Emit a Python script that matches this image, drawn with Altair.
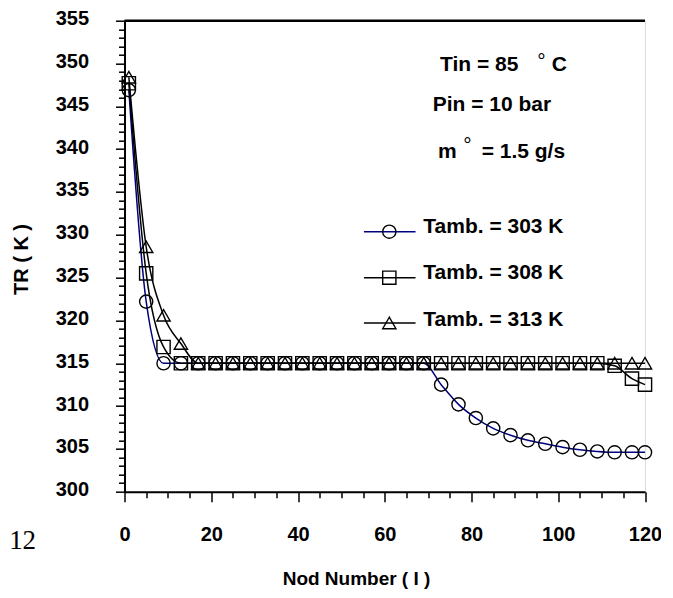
import altair as alt
import pandas as pd

# ---------------- data ----------------
nodes = [1, 5, 9, 13, 17, 21, 25, 29, 33, 37, 41, 45, 49, 53, 57, 61, 65, 69,
         73, 77, 81, 85, 89, 93, 97, 101, 105, 109, 113, 117, 120]

tr_303 = [346.9, 322.2, 315.0, 315.0, 315.0, 315.0, 315.0, 315.0, 315.0, 315.0,
          315.0, 315.0, 315.0, 315.0, 315.0, 315.0, 315.0, 315.0,
          312.5, 310.2, 308.6, 307.4, 306.6, 306.0, 305.6, 305.2, 304.9, 304.7,
          304.6, 304.6, 304.6]

tr_308 = [347.7, 325.5, 316.9, 315.0, 315.0, 315.0, 315.0, 315.0, 315.0, 315.0,
          315.0, 315.0, 315.0, 315.0, 315.0, 315.0, 315.0, 315.0,
          315.0, 315.0, 315.0, 315.0, 315.0, 315.0, 315.0, 315.0, 315.0, 315.0,
          314.7, 313.2, 312.5]

tr_313 = [348.4, 328.6, 320.6, 317.3, 315.0, 315.0, 315.0, 315.0, 315.0, 315.0,
          315.0, 315.0, 315.0, 315.0, 315.0, 315.0, 315.0, 315.0,
          315.0, 315.0, 315.0, 315.0, 315.0, 315.0, 315.0, 315.0, 315.0, 315.0,
          315.0, 315.0, 315.0]

series_names = ["Tamb. = 303 K", "Tamb. = 308 K", "Tamb. = 313 K"]
series_values = [tr_303, tr_308, tr_313]
series_shapes = ["circle", "square", "triangle-up"]
series_colors = ["#000080", "black", "black"]

x_ticks = [0, 5, 10, 15, 20, 25, 30, 35, 40, 45, 50, 55, 60, 65, 70, 75, 80,
           85, 90, 95, 100, 105, 110, 115, 120]
y_ticks = [300, 301, 302, 303, 304, 305, 306, 307, 308, 309, 310, 311, 312, 313,
           314, 315, 316, 317, 318, 319, 320, 321, 322, 323, 324, 325, 326, 327,
           328, 329, 330, 331, 332, 333, 334, 335, 336, 337, 338, 339, 340, 341,
           342, 343, 344, 345, 346, 347, 348, 349, 350, 351, 352, 353, 354, 355]

# legend rows (in data coordinates)
legend_line_x = [55.2, 67.1]
legend_marker_x = 61.05
legend_text_x = 68.9
legend_line_y = [330.36, 324.99, 319.7]
legend_text_y = [330.94, 325.5, 320.05]

# annotation texts
ann_text = ["Tin = 85", "C", "Pin = 10 bar", "m", "= 1.5 g/s"]
ann_x = [72.74, 98.49, 71.06, 72.28, 82.35]
ann_y = [349.82, 349.82, 345.15, 339.70, 339.70]
deg_x = [96.14, 79.08]
deg_y = [349.47, 339.61]

FONT = "Liberation Sans"

# ---------------- tables ----------------
rows = []
for name, vals in zip(series_names, series_values):
    for n, v in zip(nodes, vals):
        rows.append({"series": name, "node": n, "tr": v})
df = pd.DataFrame(rows)

leg_lines = pd.DataFrame({
    "series": series_names,
    "x1": [legend_line_x[0]] * 3,
    "x2": [legend_line_x[1]] * 3,
    "y": legend_line_y,
})
leg_marks = pd.DataFrame({
    "series": series_names,
    "x": [legend_marker_x] * 3,
    "y": legend_line_y,
})
leg_text = pd.DataFrame({
    "series": series_names,
    "x": [legend_text_x] * 3,
    "y": legend_text_y,
})
ann = pd.DataFrame({"t": ann_text, "x": ann_x, "y": ann_y})
deg = pd.DataFrame({"t": ["°", "°"], "x": deg_x, "y": deg_y})
page = pd.DataFrame({"t": ["12"], "x": [-26.6], "y": [294.3]})

x_scale = alt.Scale(domain=[0, 120], nice=False, zero=False)
y_scale = alt.Scale(domain=[300, 355], nice=False, zero=False)

color_scale = alt.Scale(domain=series_names, range=series_colors)
shape_scale = alt.Scale(domain=series_names, range=series_shapes)

x_axis = alt.Axis(
    values=x_ticks, tickCount=len(x_ticks) + 5,
    labelExpr="datum.value % 20 === 0 ? datum.label : ''",
    tickSize={"condition": {"test": "datum.value % 20 === 0", "value": 10}, "value": 6},
    tickColor="black", tickWidth=1.5,
    domainColor="black", domainWidth=2,
    labelFont=FONT, labelFontWeight="bold", labelFontSize=20, labelColor="black",
    labelPadding=23, labelOverlap=False, labelFlush=False,
    grid=False,
    title="Nod Number ( I )",
    titleFont=FONT, titleFontWeight="bold", titleFontSize=19, titleColor="black",
    titleX=231.5, titleY=87, titleAlign="center", titleBaseline="middle",
)
y_axis = alt.Axis(
    values=y_ticks, tickCount=len(y_ticks) + 5,
    labelExpr="datum.value % 5 === 0 ? datum.label : ''",
    tickSize={"condition": {"test": "datum.value % 5 === 0", "value": 9}, "value": 6},
    tickColor="black", tickWidth=1.5,
    domainColor="black", domainWidth=2,
    labelFont=FONT, labelFontWeight="bold", labelFontSize=20, labelColor="black",
    labelPadding=27, labelOverlap=False, labelFlush=False,
    labelBaseline="middle", labelOffset=-2,
    grid=False,
    title="TR ( K )",
    titleFont=FONT, titleFontWeight="bold", titleFontSize=20, titleColor="black",
    titleX=-102.8, titleY=238.3, titleAngle=270, titleAlign="center",
    titleBaseline="middle",
)

base = alt.Chart(df)

lines = base.mark_line(interpolate="monotone", strokeWidth=1.5).encode(
    x=alt.X("node:Q", scale=x_scale, axis=x_axis),
    y=alt.Y("tr:Q", scale=y_scale, axis=y_axis),
    color=alt.Color("series:N", scale=color_scale, legend=None),
    detail="series:N",
)
points = base.mark_point(filled=False, size=175, strokeWidth=1.4, color="black", opacity=1).encode(
    x=alt.X("node:Q", scale=x_scale),
    y=alt.Y("tr:Q", scale=y_scale),
    shape=alt.Shape("series:N", scale=shape_scale, legend=None),
)

top_border = alt.Chart(pd.DataFrame({"a": [0]})).mark_rule(
    color="black", strokeWidth=2.5
).encode(
    x=alt.datum(0, scale=x_scale), x2=alt.datum(120), y=alt.datum(355, scale=y_scale)
)

leg_l = alt.Chart(leg_lines).mark_rule(strokeWidth=1.5).encode(
    x=alt.X("x1:Q", scale=x_scale), x2="x2:Q",
    y=alt.Y("y:Q", scale=y_scale),
    color=alt.Color("series:N", scale=color_scale, legend=None),
)
leg_m = alt.Chart(leg_marks).mark_point(filled=False, size=175, strokeWidth=1.4, color="black", opacity=1).encode(
    x=alt.X("x:Q", scale=x_scale), y=alt.Y("y:Q", scale=y_scale),
    shape=alt.Shape("series:N", scale=shape_scale, legend=None),
)
leg_t = alt.Chart(leg_text).mark_text(
    align="left", baseline="middle", font=FONT, fontWeight="bold", fontSize=21, color="black"
).encode(
    x=alt.X("x:Q", scale=x_scale), y=alt.Y("y:Q", scale=y_scale), text="series:N"
)

ann_t = alt.Chart(ann).mark_text(
    align="left", baseline="middle", font=FONT, fontWeight="bold", fontSize=21, color="black"
).encode(
    x=alt.X("x:Q", scale=x_scale), y=alt.Y("y:Q", scale=y_scale), text="t:N"
)
deg_t = alt.Chart(deg).mark_text(
    align="center", baseline="alphabetic", font=FONT, fontWeight="normal", fontSize=21, color="black"
).encode(
    x=alt.X("x:Q", scale=x_scale), y=alt.Y("y:Q", scale=y_scale), text="t:N"
)
page_t = alt.Chart(page).mark_text(
    align="left", baseline="middle", font="Liberation Serif", fontSize=27, color="black"
).encode(
    x=alt.X("x:Q", scale=x_scale), y=alt.Y("y:Q", scale=y_scale), text="t:N"
)

chart = alt.layer(
    lines, points, top_border, leg_l, leg_m, leg_t, ann_t, deg_t, page_t
).properties(
    width=520.5, height=471,
    autosize=alt.AutoSizeParams(type="none"),
    padding={"left": 116.5, "top": 12.7, "right": 16, "bottom": 97},
).configure_view(
    stroke="black", strokeWidth=1.5
).configure(
    background="white"
)

chart.save("out.html", embed_options={"renderer": "svg", "actions": False})
